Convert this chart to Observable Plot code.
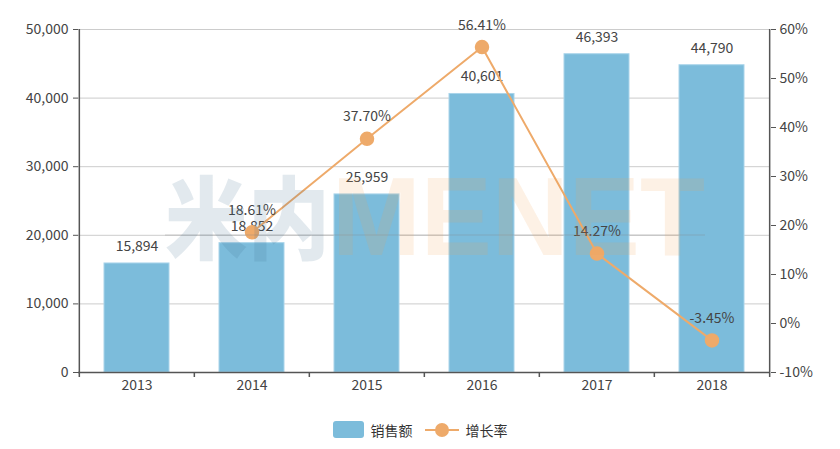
<!DOCTYPE html>
<html>
<head>
<meta charset="utf-8">
<script src="https://cdn.jsdelivr.net/npm/d3@7"></script>
<script src="https://cdn.jsdelivr.net/npm/@observablehq/plot@0.6"></script>
<style>
  body { margin: 0; background: #fff; font-family: "Noto Sans CJK SC", "Noto Sans", sans-serif; }
  #chart { width: 840px; }
  .legend { display: flex; justify-content: center; align-items: center; height: 39px; font-size: 14px; color: #333; padding-left: 0px; }
  .legend .item { display: flex; align-items: center; margin: 0 6px; }
  .legend .sw { width: 31px; height: 17px; border-radius: 3px; background: #7cbcdb; margin-right: 7px; }
  .legend .ln { position: relative; width: 34px; height: 14px; margin-right: 7px; }
  .legend .ln::before { content: ""; position: absolute; left: 0; right: 0; top: 6px; height: 2px; background: #eeaa6a; }
  .legend .ln::after { content: ""; position: absolute; left: 10px; top: 0; width: 14px; height: 14px; border-radius: 50%; background: #eeaa6a; }
</style>
</head>
<body>
<div id="chart"></div>
<div class="legend">
  <div class="item"><div class="sw"></div><span>销售额</span></div>
  <div class="item"><div class="ln"></div><span>增长率</span></div>
</div>
<script>
const years = ["2013", "2014", "2015", "2016", "2017", "2018"];
const sales = [15894, 18852, 25959, 40601, 46393, 44790];
const rateYears = ["2014", "2015", "2016", "2017", "2018"];
const rates = [18.61, 37.70, 56.41, 14.27, -3.45];
const leftTicks = [0, 10000, 20000, 30000, 40000, 50000];
const rightTicks = [-10, 0, 10, 20, 30, 40, 50, 60];

const W = 840, H = 410;
const mL = 78, mR = 70, mT = 29, mB = 38;
const step = (W - mL - mR) / years.length;

// map growth rate (%) onto sales domain
const rMin = -10, rMax = 60, yMax = 50000;
const r2y = r => (r - rMin) / (rMax - rMin) * yMax;
const y2r = y => y / yMax * (rMax - rMin) + rMin;

const salesData = years.map((y, i) => ({year: y, value: sales[i]}));
const rateData = rateYears.map((y, i) => ({year: y, rate: rates[i], yv: r2y(rates[i])}));

const fmt = d3.format(",");
const axisColor = "#555";
const textColor = "#444";
const font = "Noto Sans CJK SC, Noto Sans, sans-serif";

const chart = Plot.plot({
  width: W, height: H,
  marginLeft: mL, marginRight: mR, marginTop: mT, marginBottom: mB,
  style: {fontFamily: font, fontSize: "13px", color: textColor, background: "#fff"},
  x: {type: "band", domain: years, padding: 0, label: null},
  y: {domain: [0, yMax], label: null},
  marks: [
    Plot.gridY(leftTicks, {stroke: "#ccc", strokeOpacity: 1, strokeWidth: 1}),
    Plot.barY(salesData, {x: "year", y: "value", fill: "#7cbcdb", stroke: "#a9d4ea", strokeWidth: 1, insetLeft: 25, insetRight: 25}),
    Plot.text(salesData, {x: "year", y: "value", text: d => fmt(d.value), dy: -17, fontSize: 14, fill: textColor}),
    // axis lines
    Plot.ruleY([0], {stroke: axisColor, strokeWidth: 1.5}),
    Plot.ruleX([years[0]], {dx: -step / 2, stroke: axisColor, strokeWidth: 1.5, insetBottom: -5}),
    Plot.ruleX([years[years.length - 1]], {dx: step / 2, stroke: axisColor, strokeWidth: 1.5, insetBottom: -5}),
    // category boundary ticks
    Plot.ruleX(years.slice(1), {x: d => d, y1: 0, y2: 0, dx: -step / 2, insetBottom: -5, stroke: axisColor, strokeWidth: 1.5}),
    Plot.axisX({tickSize: 0, tickPadding: 8, fontSize: 14, fill: textColor}),
    Plot.axisY({anchor: "left", ticks: leftTicks, tickFormat: fmt, tickSize: 5, tickPadding: 5, fontSize: 14, stroke: axisColor, fill: textColor}),
    Plot.axisY({anchor: "right", ticks: rightTicks.map(r2y), tickFormat: d => Math.round(y2r(d)) + "%", tickSize: 5, tickPadding: 4, fontSize: 14, stroke: axisColor, fill: textColor}),
    // growth rate line
    Plot.line(rateData, {x: "year", y: "yv", stroke: "#eeaa6a", strokeWidth: 2}),
    Plot.dot(rateData, {x: "year", y: "yv", r: 6.5, fill: "#eeaa6a", stroke: "#eeaa6a"}),
    Plot.text(rateData, {x: "year", y: "yv", text: d => d.rate.toFixed(2) + "%", dy: -22, fontSize: 14, fill: textColor})
  ]
});

document.getElementById("chart").appendChild(chart);

// watermark overlay (decorative)
const svg = d3.select(chart);
const wm = svg.append("g").attr("pointer-events", "none");
wm.append("line").attr("x1", 165).attr("x2", 705).attr("y1", 235).attr("y2", 235)
  .attr("stroke", "#888").attr("stroke-opacity", 0.35);
function fitText(txt, x0, x1, baseline, family, weight, size, fill) {
  const g = wm.append("g");
  const t = g.append("text").attr("x", 0).attr("y", 0)
    .style("font-family", family).style("font-weight", weight).style("font-size", size + "px")
    .attr("fill", fill).attr("fill-opacity", 0.15).text(txt);
  const bb = t.node().getBBox();
  const sx = (x1 - x0) / bb.width;
  g.attr("transform", `translate(${x0 - bb.x * sx},${baseline}) scale(${sx},1)`);
}
fitText("米内", 165, 330, 252, "Noto Sans CJK SC", 900, 90, "#3d6d8f");
fitText("MENET", 332, 705, 255, "Liberation Sans, Arial, sans-serif", 700, 112, "#f0a050");
</script>
</body>
</html>
